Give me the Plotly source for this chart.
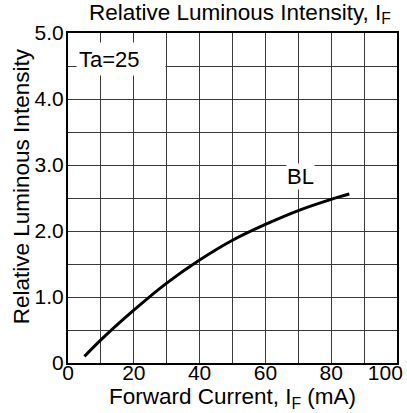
import plotly.graph_objects as go

# Data
forward_current_mA = [5, 10, 20, 30, 40, 50, 60, 70, 80, 85.5]
relative_intensity = [0.10, 0.35, 0.80, 1.21, 1.56, 1.86, 2.10, 2.31, 2.48, 2.56]

x_tick_vals = [0, 20, 40, 60, 80, 100]
x_tick_text = ["0", "20", "40", "60", "80", "100\u00a0\u00a0\u00a0\u00a0"]
y_tick_vals = [0, 1.0, 2.0, 3.0, 4.0, 5.0]
y_tick_text = ["0", "1.0", "2.0", "3.0", "4.0", "5.0"]

series_name = "BL"
condition_label = "Ta=25"

FONT = "Liberation Sans, Arial, sans-serif"
GRID = "#3a3a3a"

fig = go.Figure()
fig.add_trace(go.Scatter(
    x=forward_current_mA, y=relative_intensity, mode="lines", name=series_name,
    line=dict(color="black", width=3, shape="spline", smoothing=1.0),
    showlegend=False,
))

fig.update_layout(
    width=407, height=413,
    margin=dict(l=68, r=10, t=33, b=50, autoexpand=False),
    paper_bgcolor="white", plot_bgcolor="white",
    font=dict(family=FONT, color="black", size=21),
    title=dict(
        text="Relative Luminous Intensity, I<sub>F</sub>",
        font=dict(family=FONT, size=22.5, color="black"),
        xref="container", x=89 / 407, xanchor="left",
        yref="container", y=1 - 4 / 413, yanchor="top",
        automargin=False,
    ),
    xaxis=dict(
        range=[0, 100], tickvals=x_tick_vals, ticktext=x_tick_text,
        showgrid=True, gridcolor=GRID, gridwidth=1,
        minor=dict(dtick=10, tick0=0, showgrid=True, gridcolor=GRID, gridwidth=1, ticks=""),
        showline=True, linecolor="black", linewidth=2, mirror=True,
        ticks="", zeroline=False, automargin=False, tickangle=0,
        ticklabeloverflow="allow", ticklabelstandoff=-10,
        tickfont=dict(family=FONT, size=21),
        title=dict(text="Forward Current, I<sub>F</sub> (mA)",
                   font=dict(family=FONT, size=22.5), standoff=3),
    ),
    yaxis=dict(
        range=[0, 5], tickvals=y_tick_vals, ticktext=y_tick_text,
        showgrid=True, gridcolor=GRID, gridwidth=1,
        minor=dict(dtick=0.5, tick0=0, showgrid=True, gridcolor=GRID, gridwidth=1, ticks=""),
        showline=True, linecolor="black", linewidth=2, mirror=True,
        ticks="", zeroline=False, automargin=False,
        ticklabeloverflow="allow", ticklabelstandoff=-2,
        tickfont=dict(family=FONT, size=21),
    ),
)

# y-axis title placed as an annotation (shifted up slightly, as in the reference)
fig.add_annotation(
    xref="paper", yref="paper", x=0, y=(362.5 - 186) / 329.5,
    xshift=-47, text="Relative Luminous Intensity", textangle=-90,
    showarrow=False, font=dict(family=FONT, size=22.5, color="black"),
    xanchor="center", yanchor="middle",
)

fig.add_annotation(
    x=16, y=4.6, xref="x", yref="y", text=condition_label, showarrow=False,
    font=dict(family=FONT, size=22, color="black"),
    bgcolor="white", width=84, height=28, align="left", borderpad=2,
)
fig.add_annotation(
    x=70.8, y=2.83, xref="x", yref="y", text=series_name, showarrow=False,
    font=dict(family=FONT, size=22, color="black"),
    bgcolor="white", borderpad=0,
)

fig.write_html(
    "out.html",
    config={"displayModeBar": False},
    post_script="document.body.style.margin='0';document.body.style.overflow='hidden';",
)
